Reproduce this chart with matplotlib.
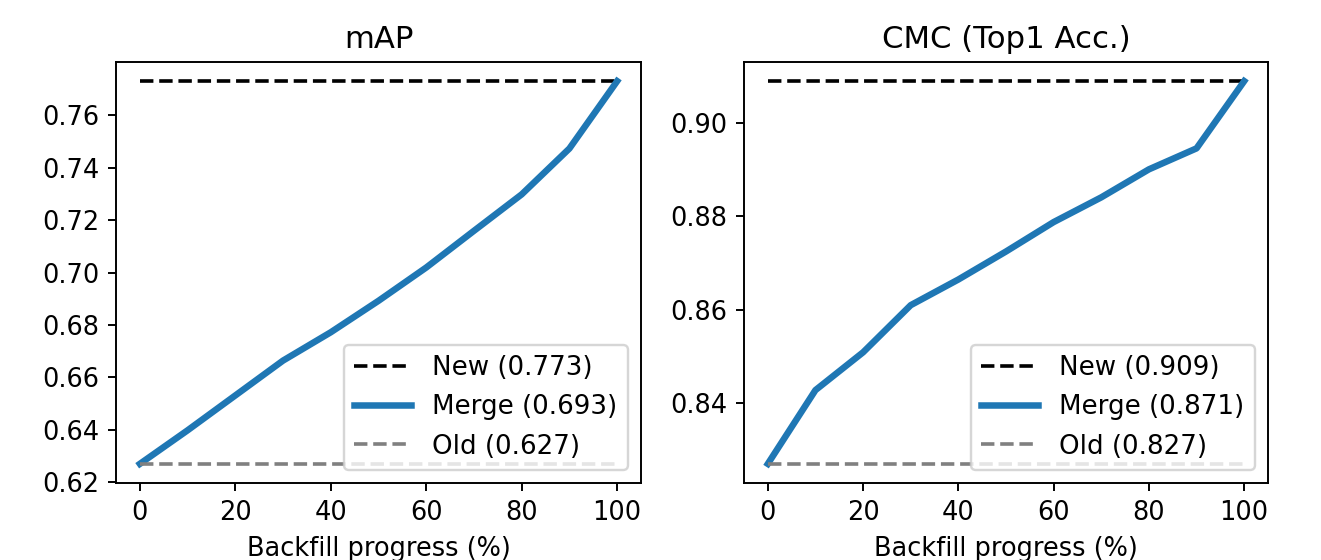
import matplotlib
matplotlib.use("Agg")
import matplotlib.pyplot as plt

progress = [0, 10, 20, 30, 40, 50, 60, 70, 80, 90, 100]

map_merge = [0.627, 0.6398, 0.6531, 0.6664, 0.6772, 0.6892, 0.7019, 0.7159, 0.7298, 0.7473, 0.773]
map_new = 0.773
map_old = 0.627
map_merge_avg = 0.693
map_yticks = [0.62, 0.64, 0.66, 0.68, 0.70, 0.72, 0.74, 0.76]

cmc_merge = [0.827, 0.8428, 0.8509, 0.8610, 0.8665, 0.8725, 0.8788, 0.8841, 0.8901, 0.8946, 0.909]
cmc_new = 0.909
cmc_old = 0.827
cmc_merge_avg = 0.871
cmc_yticks = [0.84, 0.86, 0.88, 0.90]

xticks = [0, 20, 40, 60, 80, 100]
titles = ["mAP", "CMC (Top1 Acc.)"]
xlabel = "Backfill progress (%)"

plt.rcParams["font.size"] = 10.6

DPI = 174
fig = plt.figure(figsize=(1321 / DPI, 560 / DPI), dpi=DPI)

W, H = 1321, 560
ax1 = fig.add_axes([116 / W, (H - 483) / H, 525 / W, 421 / H])
ax2 = fig.add_axes([744 / W, (H - 483) / H, 524 / W, 421 / H])

for ax, title, merge, new, old, avg, yt in [
    (ax1, titles[0], map_merge, map_new, map_old, map_merge_avg, map_yticks),
    (ax2, titles[1], cmc_merge, cmc_new, cmc_old, cmc_merge_avg, cmc_yticks),
]:
    ax.plot([progress[0], progress[-1]], [new, new], "--", color="black",
            lw=1.5, label=f"New ({new:.3f})")
    ax.plot(progress, merge, "-", color="#1f77b4", lw=2.7,
            label=f"Merge ({avg:.3f})")
    ax.plot([progress[0], progress[-1]], [old, old], "--", color="gray",
            lw=1.5, label=f"Old ({old:.3f})")
    ax.set_title(title)
    ax.set_xlabel(xlabel)
    ax.set_xticks(xticks)
    ax.set_yticks(yt)
    ax.yaxis.set_major_formatter(matplotlib.ticker.FormatStrFormatter("%.2f"))
    ax.legend(loc="lower right", handlelength=2.2, fontsize=10.8)

ax1.set_ylim(0.6197, 0.7803)
ax2.set_ylim(0.8229, 0.9131)

fig.savefig("out.png", dpi=DPI)
